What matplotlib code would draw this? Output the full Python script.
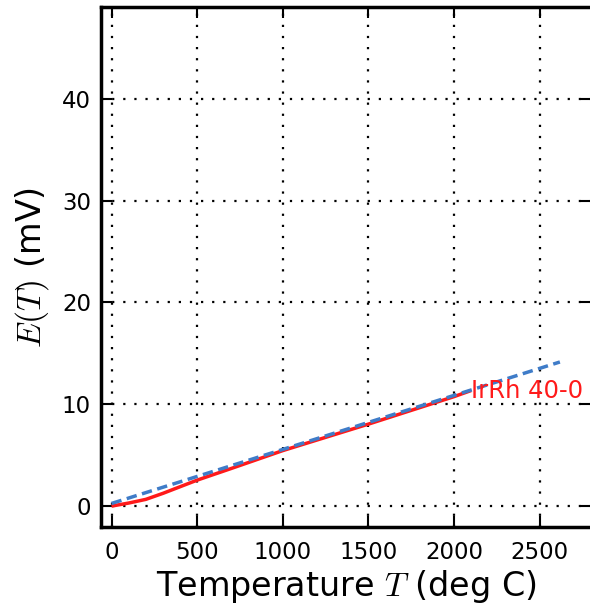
import matplotlib
matplotlib.use("Agg")
import matplotlib.pyplot as plt

# Data
T_red = [0, 100, 200, 300, 400, 500, 700, 1000, 1500, 2000, 2100]
E_red = [0.0, 0.3, 0.66, 1.25, 1.9, 2.55, 3.7, 5.45, 8.05, 10.75, 11.35]
T_fit = [0, 2618]
E_fit = [0.26, 14.15]
label_text = "IrRh 40-0"
xticks = [0, 500, 1000, 1500, 2000, 2500]
yticks = [0, 10, 20, 30, 40]

plt.rcParams['mathtext.fontset'] = 'cm'

fig = plt.figure(figsize=(5.9, 6.04), dpi=100)
ax = fig.add_axes([0.1707, 0.1275, 0.832, 0.8609])

ax.plot(T_red, E_red, color='#ff1a1a', lw=2.5, solid_capstyle='butt')
ax.plot(T_fit, E_fit, color='#3f7cc8', lw=2.5, linestyle=(0, (3, 1.6)))
ax.text(T_red[-1], E_red[-1], label_text, color='#ff1a1a', fontsize=17.5,
        ha='left', va='center')

ax.set_xlim(-63, 2803)
ax.set_ylim(-2.05, 49)
ax.set_xticks(xticks)
ax.set_yticks(yticks)
ax.grid(True, color='black', linestyle=(0, (1, 4)), lw=1.6)

for s in ax.spines.values():
    s.set_linewidth(2.5)
ax.tick_params(direction='in', length=8, width=1.5, top=True, right=True,
               labelsize=16.5, colors='black')
ax.tick_params(axis='x', pad=10)
ax.tick_params(axis='y', pad=7)

ax.set_xlabel('Temperature $T$ (deg C)', fontsize=24, labelpad=3)
ax.set_ylabel('$E(T)$ (mV)', fontsize=24, labelpad=8)

fig.savefig('out.png', dpi=100)
